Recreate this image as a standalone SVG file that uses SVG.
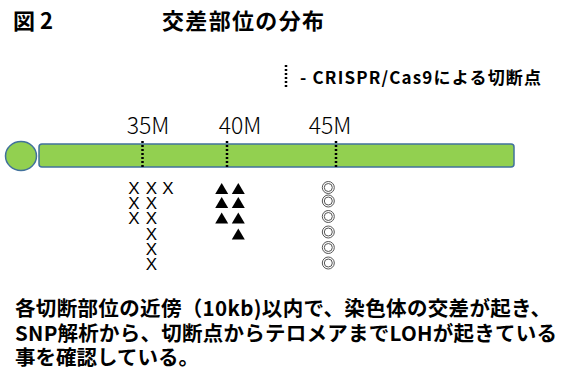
<svg xmlns="http://www.w3.org/2000/svg" width="561" height="373" viewBox="0 0 561 373">
<style>
.jp{font-family:"Noto Sans CJK JP","Noto Sans",sans-serif;fill:#000}
.b{font-weight:700}
.tick{font-family:"Noto Sans CJK JP","Noto Sans",sans-serif;font-weight:300;font-size:23px;fill:#000;text-anchor:middle}
.x{font-family:"Liberation Sans",Arial,sans-serif;font-size:17px;fill:#000;text-anchor:middle}
.dot{stroke:#000;stroke-width:2.5;stroke-dasharray:2 2;fill:none}
.ring{fill:none;stroke:#555;stroke-width:1}
</style>
<defs>
<path id="tri" d="M0,-5.5 L6.5,5.5 L-6.5,5.5 Z" fill="#000"/>
<g id="dbl"><circle r="6" class="ring"/><circle r="4" class="ring"/></g>
</defs>
<g id="title">
<text class="jp b" x="13" y="29" font-size="22">図 2</text>
<text class="jp b" x="162" y="29" font-size="22" textLength="162" lengthAdjust="spacing">交差部位の分布</text>
</g>
<g id="legend">
<line class="dot" x1="286" y1="65" x2="286" y2="88"/>
<text class="jp b" x="300" y="84" font-size="17" textLength="241" lengthAdjust="spacing">- CRISPR/Cas9による切断点</text>
</g>
<g id="chromosome">
<ellipse cx="21" cy="156" rx="15.5" ry="14.5" fill="#92D050" stroke="#41719C" stroke-width="1.5"/>
<rect x="39" y="144" width="475" height="23" rx="3" fill="#92D050" stroke="#41719C" stroke-width="1.5"/>
</g>
<g id="ticks">
<text class="tick" x="148" y="134">35M</text>
<text class="tick" x="240" y="134">40M</text>
<text class="tick" x="330" y="134">45M</text>
<line class="dot" x1="142.5" y1="141" x2="142.5" y2="167"/>
<line class="dot" x1="227" y1="141" x2="227" y2="167"/>
<line class="dot" x1="336" y1="141" x2="336" y2="167"/>
</g>
<g id="crosses">
<text class="x"><tspan x="134" y="194">X</tspan><tspan x="134" y="208.5">X</tspan><tspan x="134" y="223.5">X</tspan></text>
<text class="x"><tspan x="151.5" y="194">X</tspan><tspan x="151.5" y="208.5">X</tspan><tspan x="151.5" y="223.5">X</tspan><tspan x="151.5" y="239.5">X</tspan><tspan x="151.5" y="254.5">X</tspan><tspan x="151.5" y="270">X</tspan></text>
<text class="x" x="168" y="194">X</text>
</g>
<g id="triangles">
<use href="#tri" x="221.7" y="188.5"/>
<use href="#tri" x="221.7" y="202.5"/>
<use href="#tri" x="221.7" y="218"/>
<use href="#tri" x="238.3" y="188.5"/>
<use href="#tri" x="238.3" y="202.5"/>
<use href="#tri" x="238.3" y="218"/>
<use href="#tri" x="238.3" y="234"/>
</g>
<g id="circles">
<use href="#dbl" x="328.3" y="187.5"/>
<use href="#dbl" x="328.3" y="201"/>
<use href="#dbl" x="328.3" y="216.5"/>
<use href="#dbl" x="328.3" y="232"/>
<use href="#dbl" x="328.3" y="247.5"/>
<use href="#dbl" x="328.3" y="263"/>
</g>
<g id="caption">
<text class="jp b" x="15" y="316" font-size="20.5" textLength="536" lengthAdjust="spacing">各切断部位の近傍（10kb)以内で、染色体の交差が起き、</text>
<text class="jp b" x="15" y="341" font-size="20.5" textLength="542" lengthAdjust="spacing">SNP解析から、切断点からテロメアまでLOHが起きている</text>
<text class="jp b" x="15" y="365" font-size="20.5">事を確認している。</text>
</g>
</svg>
